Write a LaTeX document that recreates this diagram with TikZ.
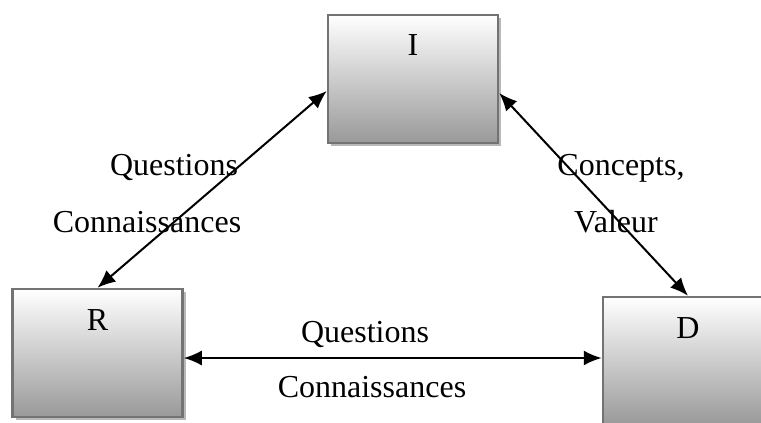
\documentclass[tikz,border=0pt]{standalone}
\usepackage{fontspec}
\setmainfont{Liberation Serif}
\usetikzlibrary{arrows.meta,calc,positioning,shadows}
\tikzset{
  agent box/.style={draw=black!55,line width=1.25pt,top color=white,bottom color=black!40,
    minimum width=85pt,minimum height=64pt,inner sep=0pt,
    drop shadow={shadow xshift=1.5pt,shadow yshift=-1.5pt,fill=black!28,opacity=1}},
  agent name/.style={inner sep=0pt,font=\fontsize{16}{19}\selectfont},
  link/.style={line width=1pt,{Latex[length=9pt,width=7.5pt]}-{Latex[length=9pt,width=7.5pt]}},
  link label/.style={anchor=base,inner sep=0pt,font=\fontsize{16}{19}\selectfont}
}

\begin{document}
\begin{tikzpicture}[x=0.5pt,y=-0.5pt]
  \useasboundingbox (0,0) rectangle (761,423);
  \clip (0,0) rectangle (761,423);

  \node[agent box] (I) at (413,79) {};
  \node[agent box] (R) at (97.5,353) {};
  \node[agent box] (D) at (688,361) {};
  \node[agent name,below=10pt of I.north] (Iname) {I};
  \node[agent name,below=10.5pt of R.north] (Rname) {R};
  \node[agent name,below=10.5pt of D.north] (Dname) {D};

  \node[link label] (q1) at (174,175) {Questions};
  \node[link label] (c1) at (147,232) {Connaissances};
  \node[link label] (c2) at (621,175) {Concepts,};
  \node[link label] (v2) at (616,232) {Valeur};
  \node[link label] (q3) at (365,342) {Questions};
  \node[link label] (c3) at (372,397) {Connaissances};

  \coordinate (Iw) at ($(I.west)+(0,12)$);
  \coordinate (Ie) at ($(I.east)+(0,14)$);
  \coordinate (Re) at ($(R.east)+(0,5)$);
  \coordinate (Dw) at (D.west |- Re);
  \draw[link] (R.north) -- (Iw);
  \draw[link] (D.north) -- (Ie);
  \draw[link] (Re) -- (Dw);
\end{tikzpicture}
\end{document}
